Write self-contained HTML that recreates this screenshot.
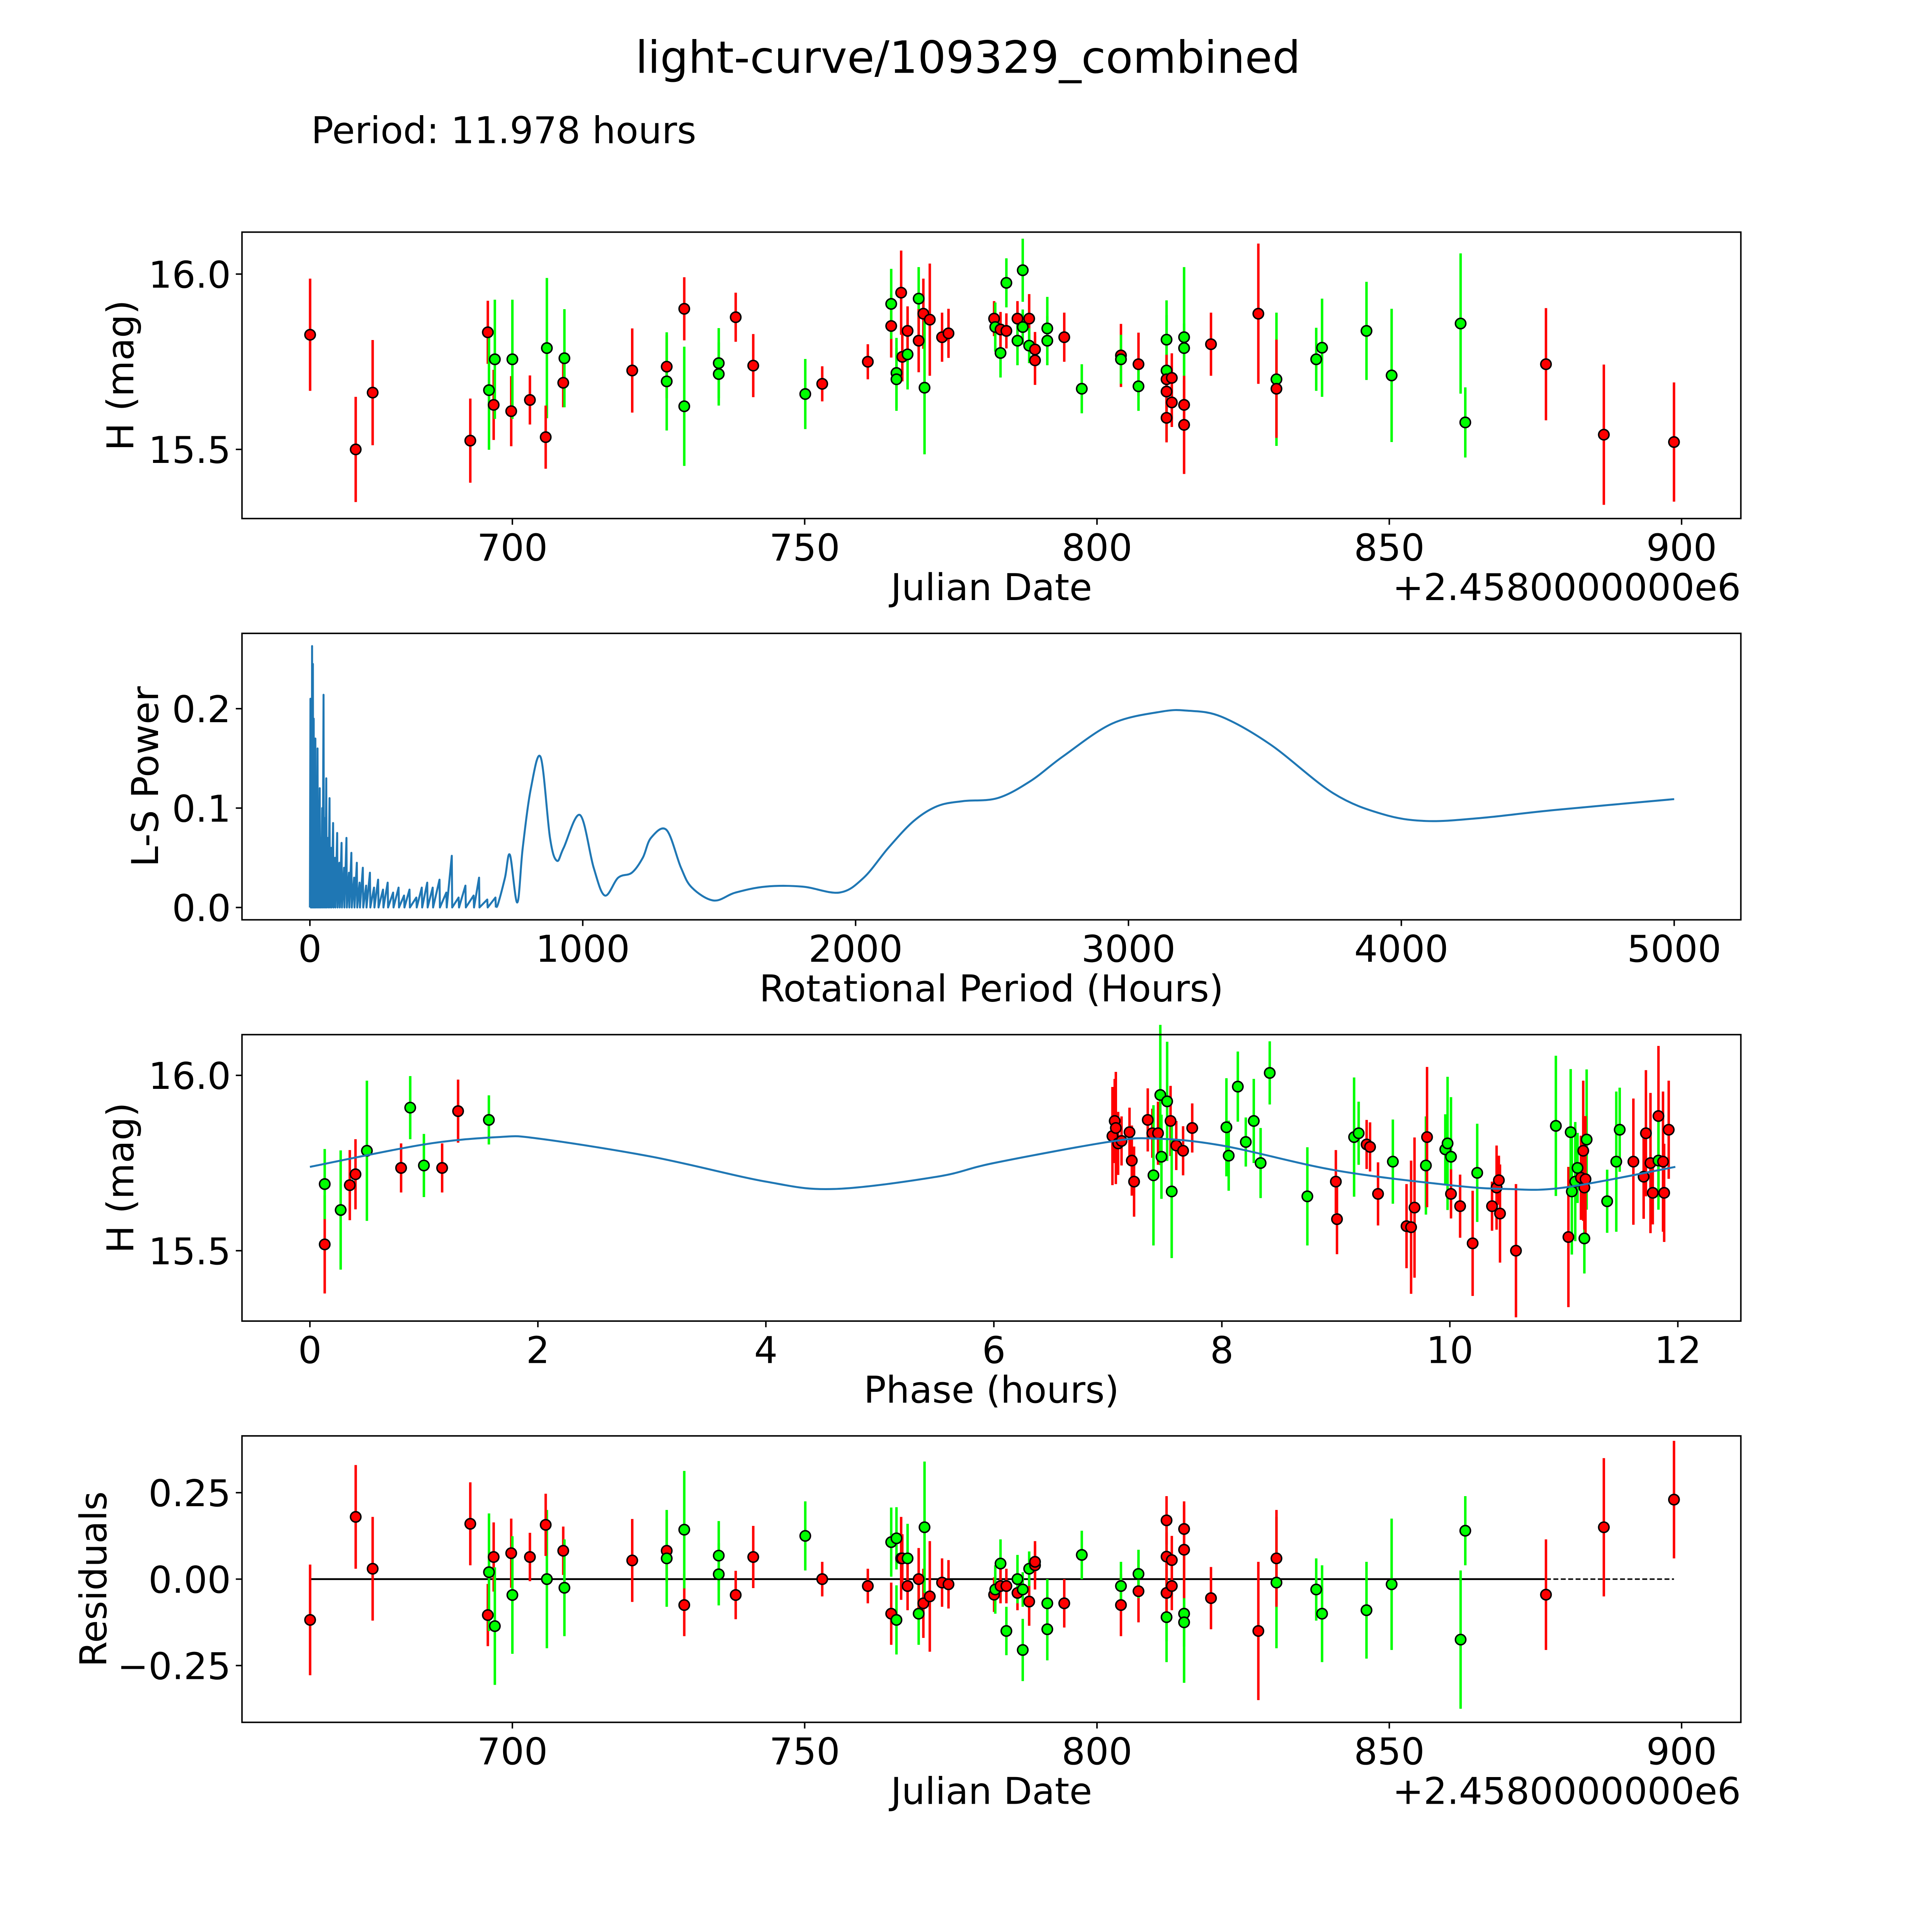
<!DOCTYPE html>
<html><head><meta charset="utf-8">
<style>
html,body{margin:0;padding:0;background:#fff;overflow:hidden;width:5400px;height:5400px;}
svg{display:block;font-family:"DejaVu Sans","Liberation Sans",sans-serif;}
</style></head>
<body>
<svg id="fig" xmlns="http://www.w3.org/2000/svg" width="5400" height="5400" viewBox="0 0 1690 1690">
<rect x="0" y="0" width="1690" height="1690" fill="#fff"/>
<text x="784" y="59" font-size="36" text-anchor="middle">light-curve/109329_combined</text>
<text x="252" y="116" font-size="30">Period: 11.978 hours</text>
<g id="g1"></g>
<g id="g2"></g>
<g id="g3"></g>
<g id="g4"></g>
</svg>
<script>
// ---- light curve data ----
const dates = [665.4,673.2,676.1,692.8,695.8,696.0,696.8,697.0,699.8,700.0,703.0,705.9,705.7,708.7,708.9,720.5,726.4,726.4,729.4,729.4,735.3,735.3,738.2,741.2,750.1,753.0,760.8,764.8,764.8,765.7,765.7,766.5,766.7,767.6,767.6,769.5,769.5,770.3,770.5,771.4,773.5,774.6,782.4,782.6,783.5,783.5,784.5,784.5,786.4,786.4,787.3,787.3,788.4,788.4,789.4,789.4,791.5,791.5,794.4,797.4,804.1,804.1,807.1,807.1,811.9,811.9,811.9,811.9,811.9,812.8,812.8,814.9,814.9,814.9,814.9,819.5,827.6,830.7,830.7,837.5,838.5,846.1,850.4,862.2,863.0,876.8,886.7,898.7];
const mags = [15.827,15.5,15.662,15.525,15.834,15.669,15.627,15.757,15.609,15.757,15.641,15.789,15.535,15.69,15.76,15.725,15.736,15.694,15.901,15.623,15.746,15.715,15.877,15.739,15.658,15.687,15.75,15.852,15.915,15.718,15.70,15.947,15.764,15.771,15.838,15.93,15.81,15.887,15.676,15.87,15.82,15.831,15.873,15.849,15.775,15.842,15.838,15.975,15.873,15.81,16.011,15.849,15.873,15.796,15.754,15.785,15.845,15.81,15.82,15.673,15.768,15.757,15.743,15.68,15.813,15.725,15.70,15.665,15.59,15.704,15.634,15.82,15.789,15.627,15.570,15.8,15.887,15.70,15.673,15.757,15.79,15.838,15.711,15.859,15.577,15.743,15.542,15.521];
const errs = [0.16,0.15,0.15,0.12,0.09,0.17,0.1,0.17,0.1,0.17,0.07,0.2,0.09,0.07,0.14,0.12,0.09,0.14,0.09,0.17,0.1,0.09,0.07,0.09,0.1,0.05,0.05,0.09,0.1,0.1,0.09,0.12,0.07,0.1,0.07,0.09,0.09,0.1,0.19,0.16,0.07,0.07,0.05,0.07,0.07,0.05,0.05,0.07,0.05,0.07,0.09,0.05,0.07,0.05,0.07,0.05,0.09,0.07,0.07,0.07,0.09,0.07,0.09,0.07,0.07,0.2,0.07,0.07,0.07,0.07,0.07,0.2,0.07,0.07,0.14,0.09,0.2,0.19,0.14,0.09,0.14,0.14,0.19,0.2,0.1,0.16,0.2,0.17];
const colors = "rrrrrgrgrgrgrrgrrgrgggrrgrrrgggrrgrgrrgrrrrggrrgrgggrgrrggrgrgrgggrrrrrggrrrrgrggggggrrrr";
const resids = [-0.118,0.18,0.03,0.16,-0.104,0.02,0.064,-0.136,0.075,-0.046,0.064,0.0,0.157,0.082,-0.025,0.054,0.082,0.06,-0.075,0.143,0.068,0.014,-0.046,0.064,0.125,0.0,-0.02,-0.1,0.107,-0.118,0.118,0.06,0.06,0.06,-0.02,-0.1,0.0,-0.07,0.15,-0.05,-0.01,-0.015,-0.045,-0.03,0.045,-0.02,-0.02,-0.15,-0.04,0.0,-0.205,-0.03,-0.065,0.03,0.04,0.05,-0.145,-0.07,-0.07,0.07,-0.075,-0.02,-0.035,0.015,-0.11,-0.04,0.17,0.065,-0.04,0.055,-0.02,-0.1,-0.125,0.145,0.085,-0.055,-0.15,-0.01,0.06,-0.03,-0.1,-0.09,-0.015,-0.175,0.14,-0.045,0.15,0.23];
// ---- phase-folded data ----
const phases = [0.13,0.13,0.27,0.35,0.40,0.50,0.80,0.88,1.0,1.16,1.30,1.57,7.04,7.06,7.07,7.09,7.12,7.19,7.21,7.23,7.35,7.39,7.40,7.44,7.46,7.47,7.52,7.55,7.56,7.60,7.66,7.74,8.04,8.06,8.14,8.21,8.28,8.34,8.42,8.75,9.0,9.01,9.16,9.20,9.27,9.30,9.37,9.50,9.62,9.66,9.69,9.79,9.80,9.96,9.98,10.01,10.01,10.09,10.20,10.24,10.37,10.41,10.43,10.44,10.58,10.93,11.04,11.06,11.07,11.10,11.12,11.15,11.17,11.18,11.18,11.20,11.19,11.38,11.49,11.46,11.61,11.70,11.72,11.76,11.78,11.83,11.83,11.87,11.88,11.92];
const phaseMags = [15.518,15.69,15.616,15.687,15.718,15.785,15.736,15.908,15.743,15.736,15.898,15.873,15.827,15.87,15.85,15.806,15.813,15.838,15.757,15.697,15.873,15.835,15.715,15.835,15.944,15.768,15.926,15.87,15.669,15.8,15.785,15.85,15.852,15.771,15.968,15.81,15.87,15.75,16.007,15.655,15.697,15.59,15.824,15.835,15.803,15.796,15.662,15.754,15.57,15.567,15.623,15.743,15.824,15.789,15.806,15.768,15.662,15.627,15.521,15.722,15.627,15.68,15.701,15.606,15.5,15.856,15.539,15.838,15.669,15.697,15.736,15.708,15.785,15.535,15.68,15.817,15.704,15.641,15.845,15.754,15.754,15.711,15.835,15.75,15.665,15.884,15.757,15.754,15.665,15.845];
const phaseErrs = [0.14,0.1,0.17,0.1,0.1,0.2,0.07,0.09,0.09,0.07,0.09,0.07,0.14,0.12,0.16,0.09,0.07,0.07,0.1,0.1,0.09,0.07,0.2,0.09,0.2,0.12,0.17,0.1,0.19,0.07,0.07,0.07,0.14,0.1,0.1,0.07,0.12,0.1,0.09,0.14,0.09,0.1,0.17,0.09,0.07,0.07,0.09,0.12,0.12,0.19,0.2,0.14,0.2,0.1,0.19,0.17,0.07,0.09,0.15,0.14,0.07,0.12,0.07,0.14,0.19,0.2,0.2,0.18,0.18,0.17,0.1,0.12,0.2,0.1,0.12,0.2,0.18,0.09,0.12,0.2,0.18,0.12,0.18,0.2,0.09,0.2,0.14,0.2,0.14,0.14];
const phaseColors = "rggrrgrggrrgrrrrrrrrrrgrgggrgrrrggggggggrrggrrrgrrrgrgggrrrgrrrrrgrggggrrgrgrgggrrrrrrgrrr";
const modelPhase = [0,1,1.65,2,3,4,4.6,5.5,6,7,7.4,8,9,10,10.5,11,11.978];
const modelMag = [15.739,15.803,15.824,15.82,15.768,15.697,15.676,15.711,15.75,15.81,15.82,15.8,15.729,15.687,15.676,15.68,15.739];
// ---- periodogram data ----
const spikePeriods = [2,5,8,11,14,17,20,24,28,32,36,40,45,50,55,60,66,72,78,85,92,100,108,116,125,134,143,152,162,172,182,194,206,220,235,250,268,285,305,325,345,365,390,410,430,450,475,500,520,545,570,600,620,650,680];
const spikePowers = [0.21,0.15,0.263,0.245,0.19,0.13,0.17,0.11,0.16,0.08,0.12,0.07,0.10,0.214,0.09,0.13,0.07,0.11,0.06,0.085,0.05,0.075,0.045,0.065,0.04,0.07,0.035,0.055,0.03,0.045,0.025,0.04,0.022,0.035,0.02,0.028,0.018,0.025,0.015,0.02,0.012,0.018,0.01,0.02,0.025,0.02,0.028,0.015,0.052,0.01,0.022,0.012,0.03,0.008,0.01];
const smoothPeriods = [690,715,733,760,780,810,846,880,905,930,990,1040,1081,1130,1180,1220,1250,1307,1360,1400,1480,1560,1670,1805,1941,2030,2120,2213,2300,2394,2520,2640,2760,2940,3120,3217,3340,3520,3750,3930,4090,4290,4560,5000];
const smoothPowers = [0.004,0.03,0.053,0.005,0.06,0.12,0.151,0.07,0.047,0.06,0.093,0.04,0.012,0.03,0.035,0.05,0.07,0.078,0.04,0.02,0.007,0.015,0.021,0.021,0.015,0.03,0.06,0.087,0.102,0.107,0.11,0.127,0.152,0.185,0.197,0.198,0.192,0.164,0.115,0.094,0.087,0.09,0.098,0.109];
// ---- tick labels ----
const jdTicks = [700,750,800,850,900];
const magTicks = [16.0,15.5];
const periodTicks = [0,1000,2000,3000,4000,5000];
const powerTicks = [0.0,0.1,0.2];
const phaseTicks = [0,2,4,6,8,10,12];
const residTicks = [0.25,0.0,-0.25];

const NS = "http://www.w3.org/2000/svg";
function mk(parent, tag, attrs, txt){
  const e = document.createElementNS(NS, tag);
  for (const k in attrs) e.setAttribute(k, attrs[k]);
  if (txt !== undefined) e.textContent = txt;
  parent.appendChild(e);
  return e;
}
const L = 196, R = 1410;
const xJD = d => 415 + (d - 700) * 4.735;
const yMag1 = m => 222 + (16 - m) * 284;
const xPer = p => 251 + p * 0.221;
const yPow = v => 735 - v * 805;
const xPh = p => 251 + p * 92.33;
const yMag3 = m => 871 + (16 - m) * 284;
const yRes = r => 1279 - r * 280;
const COL = {r:"#ff0000", g:"#00ff00"};
const TFS = 30, LFS = 30;

function frame(g, top, bot, name){
  const r = mk(g, "rect", {x:L, y:top, width:R-L, height:bot-top, fill:"none", stroke:"#000", "stroke-width":1.2});
  
  
}
function xticks(g, bot, ticks, fx, fmt, name){
  ticks.forEach(t => {
    const x = fx(t);
    const l = mk(g, "line", {x1:x, x2:x, y1:bot, y2:bot+5, stroke:"#000", "stroke-width":1.2});
    
    
    const tx = mk(g, "text", {x:x, y:bot+34, "font-size":TFS, "text-anchor":"middle"}, fmt(t));
    
    
  });
}
function yticks(g, ticks, fy, fmt, name){
  ticks.forEach(t => {
    const y = fy(t);
    const l = mk(g, "line", {x1:L-5, x2:L, y1:y, y2:y, stroke:"#000", "stroke-width":1.2});
    
    
    const tx = mk(g, "text", {x:L-9, y:y+11, "font-size":TFS, "text-anchor":"end"}, fmt(t));
    
    
  });
}
function label(g, x, y, txt, rot, name, anchor){
  const a = {x:x, y:y, "font-size":LFS, "text-anchor":anchor || "middle"};
  if (rot) a.transform = `rotate(-90 ${x} ${y})`;
  const t = mk(g, "text", a, txt);
  
  
}
function points(g, xs, ys, es, cs, fx, fy, name){
  xs.forEach((v,i) => {
    const x = fx(v);
    const l = mk(g, "line", {x1:x, x2:x, y1:fy(ys[i]+es[i]), y2:fy(ys[i]-es[i]), stroke:COL[cs[i] || "r"], "stroke-width":2});
    
    
  });
  xs.forEach((v,i) => {
    const c = mk(g, "circle", {cx:fx(v), cy:fy(ys[i]), r:4.2, fill:COL[cs[i] || "r"], stroke:"#000", "stroke-width":1.2});
    
    
  });
}
const fmt1 = t => t.toFixed(1);
const fmtInt = t => String(t);
const fmtRes = t => (t < 0 ? "\u2212" : "") + Math.abs(t).toFixed(2);

function smoothPath(pp){
  let d = "M" + pp[0][0].toFixed(2) + "," + pp[0][1].toFixed(2);
  for (let i = 1; i < pp.length; i++){
    const p0 = pp[Math.max(i-2,0)], p1 = pp[i-1], p2 = pp[i], p3 = pp[Math.min(i+1, pp.length-1)];
    const c1x = p1[0] + (p2[0]-p0[0])/6, c1y = p1[1] + (p2[1]-p0[1])/6;
    const c2x = p2[0] - (p3[0]-p1[0])/6, c2y = p2[1] - (p3[1]-p1[1])/6;
    d += ` C${c1x.toFixed(2)},${c1y.toFixed(2)} ${c2x.toFixed(2)},${c2y.toFixed(2)} ${p2[0].toFixed(2)},${p2[1].toFixed(2)}`;
  }
  return d;
}

// Panel 1
const g1 = document.getElementById("g1");
points(g1, dates, mags, errs, colors, xJD, yMag1, "observation");
frame(g1, 188, 420, "light-curve-axes");
xticks(g1, 420, jdTicks, xJD, fmtInt, "jd-x");
yticks(g1, magTicks, yMag1, fmt1, "mag-y");
label(g1, 803, 486, "Julian Date", false, "x-axis-title");
label(g1, 1410, 486, "+2.4580000000e6", false, "x-offset-label", "end");
label(g1, 108, 304, "H (mag)", true, "y-axis-title");

// Panel 2
const g2 = document.getElementById("g2");
let sd = "M" + xPer(0) + "," + yPow(0);
spikePeriods.forEach((p,i) => {
  sd += " L" + xPer(p).toFixed(2) + "," + yPow(spikePowers[i]).toFixed(2);
  sd += " L" + xPer(p + 1.5).toFixed(2) + "," + yPow(0).toFixed(2);
});
const spk = mk(g2, "path", {d:sd, fill:"none", stroke:"#1f77b4", "stroke-width":1.6, "stroke-linejoin":"round"});


const spts = smoothPeriods.map((p,i) => [xPer(p), yPow(smoothPowers[i])]);
spts.unshift([xPer(spikePeriods[spikePeriods.length-1] + 1.5), yPow(0)]);
const ls = mk(g2, "path", {d:smoothPath(spts), fill:"none", stroke:"#1f77b4", "stroke-width":1.6, "stroke-linejoin":"round"});


frame(g2, 513, 745, "periodogram-axes");
xticks(g2, 745, periodTicks, xPer, fmtInt, "period-x");
yticks(g2, powerTicks, yPow, fmt1, "power-y");
label(g2, 803, 811, "Rotational Period (Hours)", false, "x-axis-title");
label(g2, 128, 629, "L-S Power", true, "y-axis-title");

// Panel 3
const g3 = document.getElementById("g3");
points(g3, phases, phaseMags, phaseErrs, phaseColors, xPh, yMag3, "phased-observation");
const mp = modelPhase.map((p,i) => [xPh(p), yMag3(modelMag[i])]);
const mline = mk(g3, "path", {d:smoothPath(mp), fill:"none", stroke:"#1f77b4", "stroke-width":1.6});


frame(g3, 838, 1070, "phase-axes");
xticks(g3, 1070, phaseTicks, xPh, fmtInt, "phase-x");
yticks(g3, magTicks, yMag3, fmt1, "mag-y");
label(g3, 803, 1136, "Phase (hours)", false, "x-axis-title");
label(g3, 108, 954, "H (mag)", true, "y-axis-title");

// Panel 4
const g4 = document.getElementById("g4");
const lastObs = 876.8;
const z1 = mk(g4, "line", {x1:xJD(dates[0]), x2:xJD(lastObs), y1:yRes(0), y2:yRes(0), stroke:"#000", "stroke-width":1.5});


const z2 = mk(g4, "line", {x1:xJD(lastObs), x2:xJD(dates[dates.length-1]), y1:yRes(0), y2:yRes(0), stroke:"#000", "stroke-width":1.2, "stroke-dasharray":"4,2"});


points(g4, dates, resids, errs, colors, xJD, yRes, "residual");
frame(g4, 1163, 1395, "residuals-axes");
xticks(g4, 1395, jdTicks, xJD, fmtInt, "jd-x");
yticks(g4, residTicks, yRes, fmtRes, "resid-y");
label(g4, 803, 1461, "Julian Date", false, "x-axis-title");
label(g4, 1410, 1461, "+2.4580000000e6", false, "x-offset-label", "end");
label(g4, 86, 1279, "Residuals", true, "y-axis-title");
</script>
</body></html>
